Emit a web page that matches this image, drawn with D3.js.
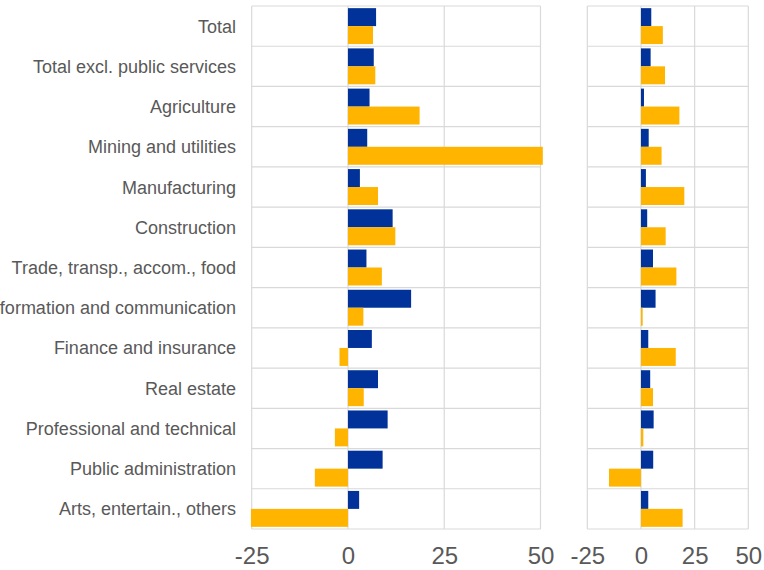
<!DOCTYPE html>
<html><head><meta charset="utf-8">
<script src="https://cdn.jsdelivr.net/npm/d3@7"></script>
<style>body{margin:0;background:#fff}svg{display:block}</style>
</head><body>
<script>
const categories = ["Total","Total excl. public services","Agriculture","Mining and utilities","Manufacturing","Construction","Trade, transp., accom., food","Information and communication","Finance and insurance","Real estate","Professional and technical","Public administration","Arts, entertain., others"];
const leftBlue   = [7.3, 6.7, 5.6, 5.0, 3.1, 11.6, 4.8, 16.4, 6.2, 7.8, 10.3, 9.0, 2.9];
const leftYellow = [6.5, 7.1, 18.6, 50.6, 7.8, 12.3, 8.8, 4.0, -2.2, 4.1, -3.4, -8.6, -25.2];
const rightBlue   = [4.8, 4.5, 1.4, 3.6, 2.3, 2.9, 5.6, 6.8, 3.4, 4.3, 5.9, 5.7, 3.4];
const rightYellow = [10.2, 11.2, 17.9, 9.6, 20.2, 11.5, 16.5, 0.8, 16.2, 5.6, 1.1, -14.9, 19.4];
const tickValues = [-25, 0, 25, 50];

const W = 764, H = 570;
const FONT = "'Liberation Sans', Arial, sans-serif";
const svg = d3.select("body").append("svg").attr("width", W).attr("height", H);
const plotTop = 6, plotBottom = 529;
const y = d3.scaleBand().domain(categories).range([plotTop, plotBottom]);
const inner = d3.scaleBand().domain(["b","y"]).range([0, y.bandwidth()]).paddingOuter(0.12).paddingInner(0);
const grid = "#d9d9d9", blue = "#003299", yellow = "#ffb400";

function panel(x0, x1, blueVals, yellowVals) {
  const x = d3.scaleLinear().domain([-25, 50]).range([x0, x1]);
  const g = svg.append("g");
  g.selectAll(".h").data(categories.concat([null])).join("line")
    .attr("x1", x0).attr("x2", x1)
    .attr("y1", (d,i) => i < categories.length ? y(d) : plotBottom)
    .attr("y2", (d,i) => i < categories.length ? y(d) : plotBottom)
    .attr("stroke", grid).attr("stroke-width", 1.2);
  g.selectAll(".v").data(tickValues).join("line")
    .attr("x1", d => x(d)).attr("x2", d => x(d))
    .attr("y1", plotTop).attr("y2", plotBottom)
    .attr("stroke", grid).attr("stroke-width", 1.2);
  g.selectAll(".b").data(blueVals).join("rect")
    .attr("x", d => Math.min(x(0), x(d))).attr("width", d => Math.abs(x(d) - x(0)))
    .attr("y", (d,i) => y(categories[i]) + inner("b")).attr("height", inner.bandwidth())
    .attr("fill", blue);
  g.selectAll(".yb").data(yellowVals).join("rect")
    .attr("x", d => Math.min(x(0), x(d))).attr("width", d => Math.abs(x(d) - x(0)))
    .attr("y", (d,i) => y(categories[i]) + inner("y")).attr("height", inner.bandwidth())
    .attr("fill", yellow);
  const ax = g.append("g").attr("transform", `translate(0,${plotBottom})`)
    .call(d3.axisBottom(x).tickValues(tickValues).tickSize(0).tickPadding(0).tickFormat(d => String(d)));
  ax.select(".domain").remove();
  ax.selectAll("text").attr("font-family", FONT)
    .attr("font-size", 24).attr("fill", "#595959")
    .attr("dy", null).attr("y", 35);
}
panel(251.7, 540.5, leftBlue, leftYellow);
panel(587.3, 748.3, rightBlue, rightYellow);

svg.append("g").selectAll("text").data(categories).join("text")
  .attr("x", 236).attr("y", d => y(d) + y.bandwidth()/2)
  .attr("dy", "0.36em").attr("text-anchor", "end")
  .attr("font-family", FONT).attr("font-size", 18)
  .attr("fill", "#595959").text(d => d);
</script>
</body></html>
